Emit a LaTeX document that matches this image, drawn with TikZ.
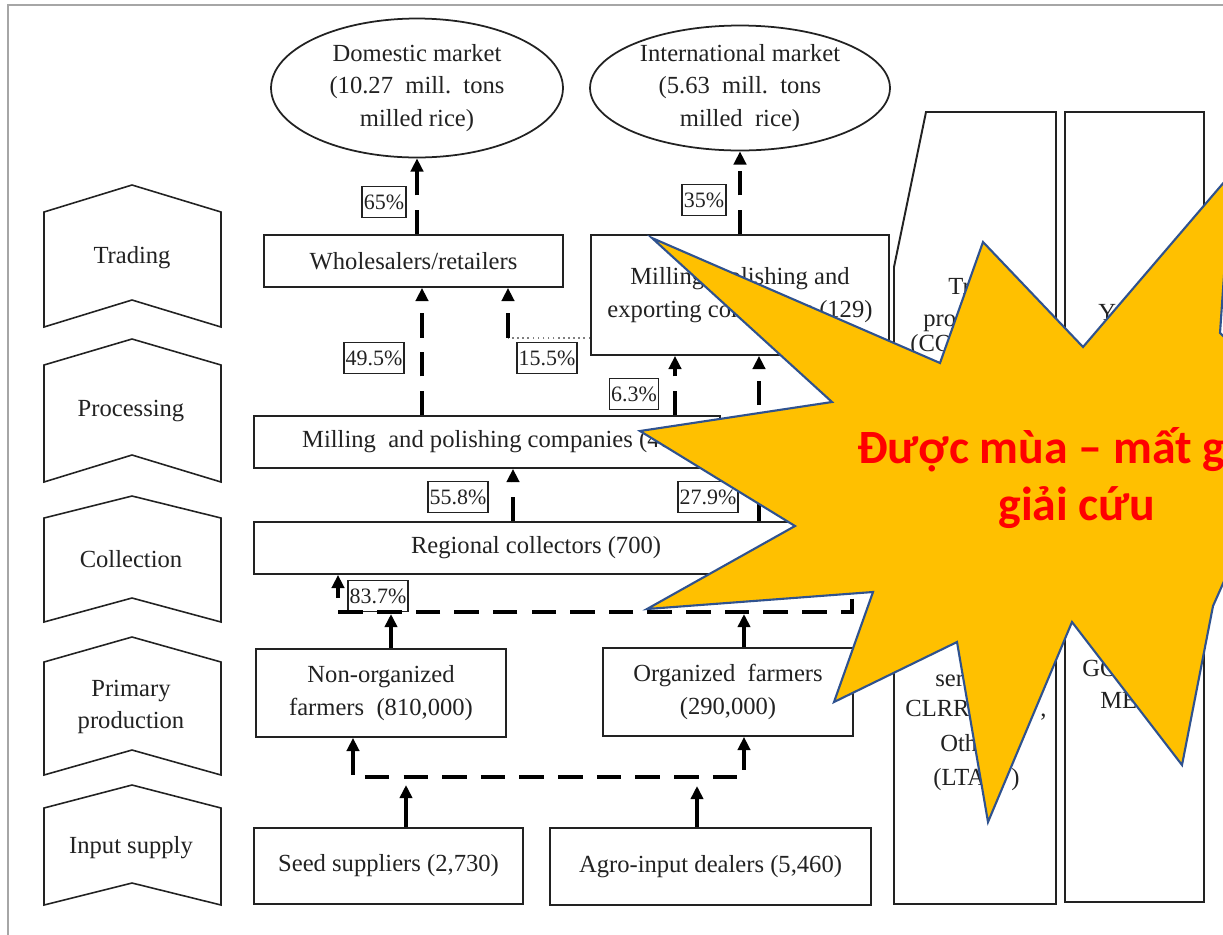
\documentclass[tikz,border=0pt]{standalone}
\usepackage{fontspec}
\setmainfont{Liberation Serif}
\newfontfamily\starfont{Carlito}
\usetikzlibrary{shapes.geometric, arrows.meta}
\definecolor{staryellow}{HTML}{FFC000}
\definecolor{starblue}{HTML}{2F528F}
\definecolor{ink}{HTML}{222222}
\definecolor{starred}{HTML}{FF0000}
\begin{document}
\begin{tikzpicture}[x=0.02cm, y=-0.02cm,
  txt/.style={font=\fontsize{14}{18.5}\selectfont, text=ink, align=center},
  box/.style={draw=ink, line width=1pt, rectangle, inner sep=0pt, txt},
  oval/.style={draw=ink, line width=1pt, ellipse, inner sep=0pt},
  pct/.style={draw=ink, line width=0.8pt, inner xsep=1pt, inner ysep=0pt, minimum height=0.62cm, font=\fontsize{12.5}{14}\selectfont, text=ink},
  flow/.style={draw=black, line width=2.2pt, dash pattern=on 14pt off 8pt, -{Triangle[length=7.5pt,width=7pt]}},
  sflow/.style={draw=black, line width=2.2pt, -{Triangle[length=7.5pt,width=7pt]}},
  chev/.style={draw=ink, line width=0.9pt},
  frag/.style={anchor=base west, inner sep=0pt, font=\fontsize{14}{18.5}\selectfont, text=ink},
  startxt/.style={anchor=base west, inner sep=0pt, font=\starfont\bfseries\fontsize{27.2}{32}\selectfont, text=starred}
]
\useasboundingbox (0,0) rectangle (1223,934);
\clip (0,0) rectangle (1223,934);
\fill[white] (0,0) rectangle (1223,934);
% outer frame
\draw[gray!70, line width=1.6pt] (8,5) rectangle (1260,960);

% chevrons (stages)
\draw[chev] (44,212) -- (132,185) -- (221,212) -- (221,327) -- (132,300) -- (44,327) -- cycle;
\draw[chev] (44,365) -- (132,339) -- (221,365) -- (221,482) -- (132,455) -- (44,482) -- cycle;
\draw[chev] (44,518) -- (132,496) -- (221,518) -- (221,622) -- (132,598) -- (44,622) -- cycle;
\draw[chev] (44,662) -- (132,637) -- (221,662) -- (221,775) -- (132,750) -- (44,775) -- cycle;
\draw[chev] (44,808) -- (132,785) -- (221,808) -- (221,905) -- (132,883) -- (44,905) -- cycle;
\node[txt] (sTrade) at (132,258) {Trading};
\node[txt] (sProc) at (131,411) {Processing};
\node[txt] (sColl) at (131,559) {Collection};
\node[txt] (sPrim) at (131,707) {Primary\\production};
\node[txt] (sInput) at (131,848) {Input supply};

% right columns
\draw[chev, line width=1.1pt] (926,112) -- (1056,112) -- (1056,904) -- (894,904) -- (894,267) -- cycle;
\draw[chev, line width=1.1pt] (1065,112) rectangle (1204,902);
\node[frag] (c1a) at (948,294) {Tr};
\node[frag] (c1b) at (923,326) {pro};
\node[frag] (c1c) at (910,351) {(CO};
\node[frag] (c1d) at (935,686) {ser};
\node[frag] (c1e) at (905,716) {CLRRI};
\node[frag] (c1f) at (1040,716) {,};
\node[frag] (c1g) at (940,751) {Oth};
\node[frag] (c1h) at (933,785) {(LTA};
\node[frag] (c1i) at (1011,785) {)};
\node[frag] (c2a) at (1098,320) {Y};
\node[frag] (c2b) at (1082,676) {GO};
\node[frag] (c2c) at (1100,708) {ME};

% markets
\node[oval, minimum width=5.84cm, minimum height=2.78cm,
  label={[txt]center:{Domestic market\\(10.27\ \ mill.\ \ tons\\milled rice)}}] (dom) at (417,88) {};
\node[oval, minimum width=6.0cm, minimum height=2.5cm,
  label={[txt]center:{International market\\(5.63\ \ mill.\ \ tons\\milled\ \ rice)}}] (intl) at (740,88) {};

% boxes
\node[box, minimum width=5.98cm, minimum height=1.04cm] (ws) at (413.5,261) {Wholesalers/retailers};
\node[box, minimum width=5.96cm, minimum height=2.40cm] (ex) at (740,295) {Milling, polishing and\\exporting companies (129)};
\node[box, minimum width=9.32cm, minimum height=1.04cm] (mp) at (487,442) {Milling\ \ and polishing companies (40};
\node[box, minimum width=11.28cm, minimum height=1.04cm] (rc) at (536,548) {Regional collectors (700)};
\node[box, minimum width=5.0cm, minimum height=1.76cm] (nf) at (381,693) {Non-organized\\farmers\ \ (810,000)};
\node[box, minimum width=5.0cm, minimum height=1.76cm] (of) at (728,692) {Organized\ \ farmers\\(290,000)};
\node[box, minimum width=5.38cm, minimum height=1.52cm] (ss) at (388.5,866) {Seed suppliers (2,730)};
\node[box, minimum width=6.42cm, minimum height=1.54cm] (ad) at (710.5,866.5) {Agro-input dealers (5,460)};

% percentage labels
\node[pct] (p65) at (384,202) {65\%};
\node[pct] (p35) at (704,200) {35\%};
\node[pct] (p495) at (374,358) {49.5\%};
\node[pct] (p155) at (547,358) {15.5\%};
\node[pct] (p63) at (634,394) {6.3\%};
\node[pct] (p558) at (458,497) {55.8\%};
\node[pct] (p279) at (708,497) {27.9\%};
\node[pct] (p837) at (378,596) {83.7\%};

% connectors
\draw[flow] (ws.north -| dom.south) -- (dom.south);
\draw[flow] (ex.north -| intl.south) -- (intl.south);
\coordinate (a495) at (422,0);
\draw[flow] (mp.north -| a495) -- (ws.south -| a495);
\coordinate (d155) at (508,338);
\draw[gray, line width=0.9pt, dotted] (ex.west |- d155) -- (d155);
\draw[flow] (d155) -- (ws.south -| d155);
\coordinate (a63) at (675,0);
\draw[flow] (mp.north -| a63) -- (ex.south -| a63);
\coordinate (a279) at (759,0);
\draw[flow] (rc.north -| a279) -- (ex.south -| a279);
\coordinate (a558) at (513,0);
\draw[flow] (rc.north -| a558) -- (mp.south -| a558);

\coordinate (hrt) at (852,560);
\coordinate (hr) at (852,612);
\coordinate (hl) at (338,612);
\draw[flow] (hrt) -- (hr) -- (hl) -- (rc.south -| hl);
\coordinate (u1) at (391,614);
\coordinate (u2) at (744,614);
\draw[sflow] (nf.north -| u1) -- (u1);
\draw[sflow] (of.north -| u2) -- (u2);

\coordinate (ll) at (353,777);
\coordinate (lr) at (744,777);
\draw[flow, {Triangle[length=7.5pt,width=7pt]}-{Triangle[length=7.5pt,width=7pt]}] (nf.south -| ll) -- (ll) -- (lr) -- (of.south -| lr);
\coordinate (sa) at (406,785);
\coordinate (sb) at (697,786);
\draw[sflow] (ss.north -| sa) -- (sa);
\draw[sflow] (ad.north -| sb) -- (sb);

% star overlay
\filldraw[fill=staryellow, draw=starblue, line width=1.2pt, line join=miter]
  (652,238) -- (940,363) -- (983,242) -- (1083,347) -- (1231,174) -- (1220,333) --
  (1300,410) -- (1213,606) -- (1182,765) -- (1072,622) -- (988,822) -- (957,642) --
  (834,702) -- (873,592) -- (647,609) -- (795,526) -- (640,431) -- (832,402) -- cycle;
\node[startxt] (st1) at (857,463) {Được mùa – mất giá};
\node[startxt] (st2) at (998,520) {giải cứu};
\end{tikzpicture}
\end{document}
